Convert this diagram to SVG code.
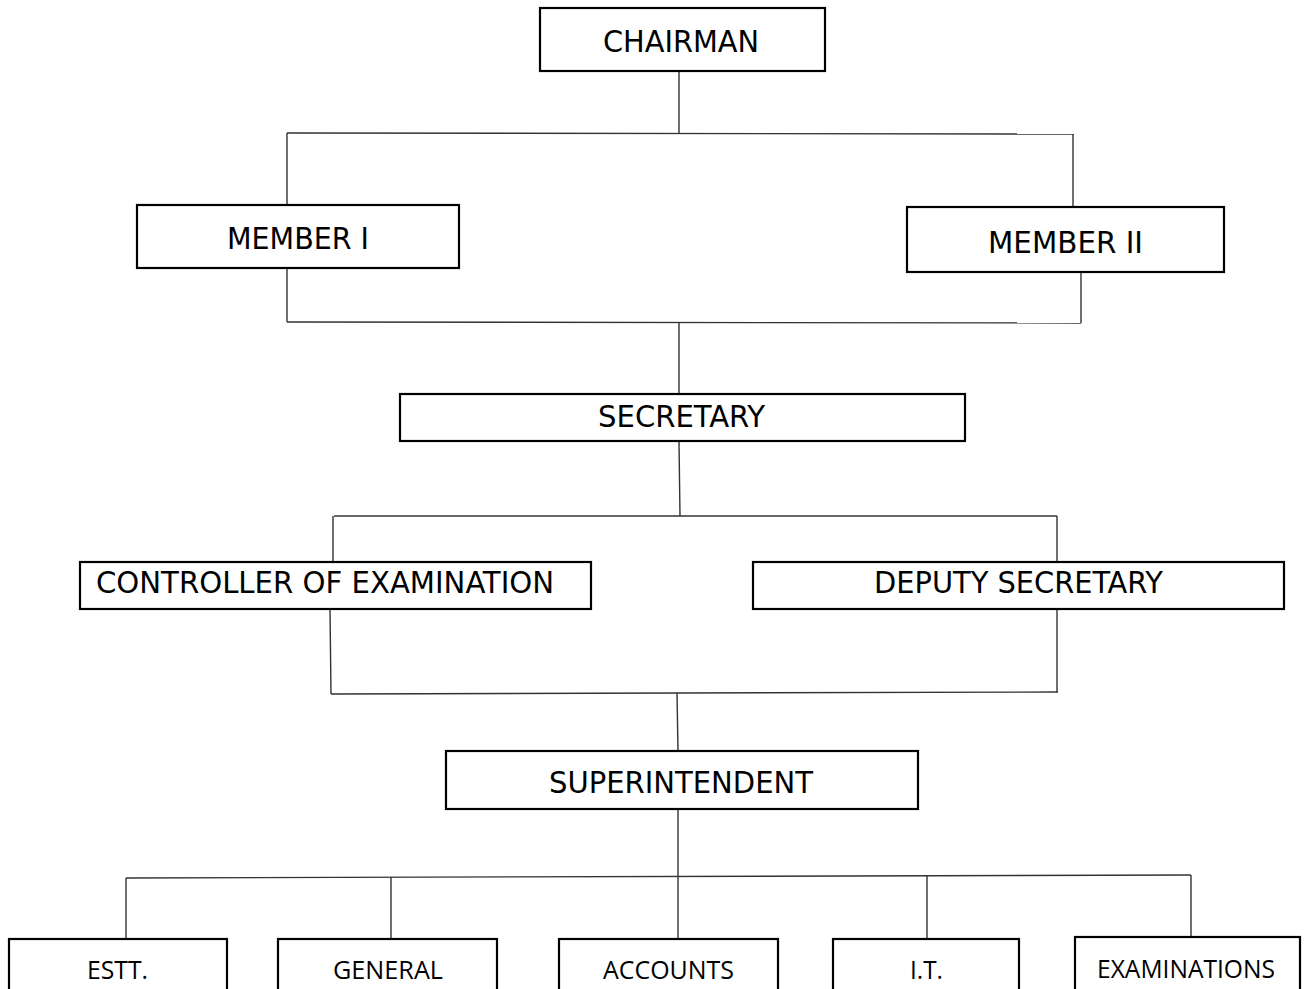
<svg xmlns="http://www.w3.org/2000/svg" width="1304" height="989" viewBox="0 0 1304 989">
<style>
.box{fill:#fff;stroke:#000;stroke-width:2.2}
.ln{stroke:#333;stroke-width:1.4;fill:none}
.t1{font-family:"DejaVu Sans Condensed","DejaVu Sans",Verdana,sans-serif;font-size:31px;fill:#000}
.t2{font-family:"Open Sans","Noto Sans",sans-serif;font-size:26px;fill:#000}
</style>
<rect width="1304" height="989" fill="#fff"/>
<g id="connectors">
<line class="ln" x1="679" y1="71" x2="679" y2="133"/>
<line class="ln" x1="287" y1="133" x2="1074" y2="134"/>
<line class="ln" x1="287" y1="133" x2="287" y2="205"/>
<line class="ln" x1="1073" y1="134" x2="1073" y2="207"/>
<line class="ln" x1="287" y1="268" x2="287" y2="322"/>
<line class="ln" x1="1081" y1="272" x2="1081" y2="323"/>
<line class="ln" x1="287" y1="322" x2="1081" y2="323"/>
<line class="ln" x1="679" y1="322" x2="679" y2="394"/>
<line class="ln" x1="679" y1="442" x2="680" y2="516"/>
<line class="ln" x1="334" y1="516" x2="1057" y2="516"/>
<line class="ln" x1="333" y1="516" x2="333" y2="562"/>
<line class="ln" x1="1057" y1="516" x2="1057" y2="562"/>
<line class="ln" x1="330" y1="609" x2="331" y2="694"/>
<line class="ln" x1="1057" y1="609" x2="1057" y2="692"/>
<line class="ln" x1="331" y1="694" x2="1058" y2="692"/>
<line class="ln" x1="677" y1="693" x2="678" y2="751"/>
<line class="ln" x1="678" y1="810" x2="678" y2="939"/>
<line class="ln" x1="126" y1="878" x2="1191" y2="875"/>
<line class="ln" x1="126" y1="878" x2="126" y2="939"/>
<line class="ln" x1="391" y1="877" x2="391" y2="940"/>
<line class="ln" x1="927" y1="876" x2="927" y2="939"/>
<line class="ln" x1="1191" y1="875" x2="1191" y2="937"/>
</g>
<g id="chairman"><rect class="box" x="540" y="8" width="285" height="63"/><text class="t1" x="603" y="52" textLength="156" lengthAdjust="spacingAndGlyphs">CHAIRMAN</text></g>
<g id="member1"><rect class="box" x="137" y="205" width="322" height="63"/><text class="t1" x="227" y="249" textLength="142" lengthAdjust="spacingAndGlyphs">MEMBER I</text></g>
<g id="member2"><rect class="box" x="907" y="207" width="317" height="65"/><text class="t1" x="988" y="253" textLength="155" lengthAdjust="spacingAndGlyphs">MEMBER II</text></g>
<g id="secretary"><rect class="box" x="400" y="394" width="565" height="47"/><text class="t1" x="598" y="427" textLength="167" lengthAdjust="spacingAndGlyphs">SECRETARY</text></g>
<g id="controller"><rect class="box" x="80" y="562" width="511" height="47"/><text class="t1" x="96" y="593" textLength="458" lengthAdjust="spacingAndGlyphs">CONTROLLER OF EXAMINATION</text></g>
<g id="deputy"><rect class="box" x="753" y="562" width="531" height="47"/><text class="t1" x="874" y="593" textLength="289" lengthAdjust="spacingAndGlyphs">DEPUTY SECRETARY</text></g>
<g id="superintendent"><rect class="box" x="446" y="751" width="472" height="58"/><text class="t1" x="549" y="793" textLength="264" lengthAdjust="spacingAndGlyphs">SUPERINTENDENT</text></g>
<g id="estt"><rect class="box" x="9" y="939" width="218" height="70"/><text class="t2" x="87" y="979" textLength="61" lengthAdjust="spacingAndGlyphs">ESTT.</text></g>
<g id="general"><rect class="box" x="278" y="939" width="219" height="70"/><text class="t2" x="333" y="979" textLength="110" lengthAdjust="spacingAndGlyphs">GENERAL</text></g>
<g id="accounts"><rect class="box" x="559" y="939" width="219" height="70"/><text class="t2" x="603" y="979" textLength="131" lengthAdjust="spacingAndGlyphs">ACCOUNTS</text></g>
<g id="it"><rect class="box" x="833" y="939" width="186" height="70"/><text class="t2" x="910" y="979" textLength="33" lengthAdjust="spacingAndGlyphs">I.T.</text></g>
<g id="examinations"><rect class="box" x="1075" y="937" width="225" height="72"/><text class="t2" x="1097" y="978" textLength="178" lengthAdjust="spacingAndGlyphs">EXAMINATIONS</text></g>
</svg>
